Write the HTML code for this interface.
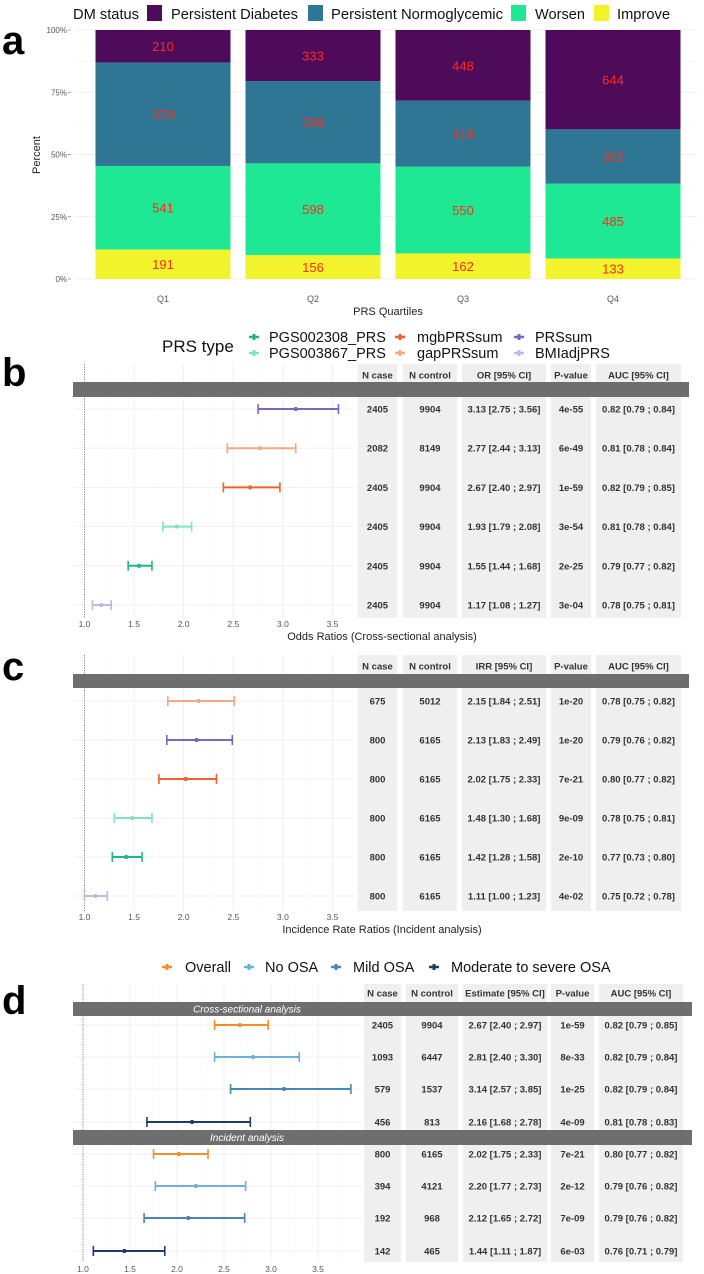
<!DOCTYPE html>
<html><head><meta charset="utf-8"><style>
html,body{margin:0;padding:0;background:#fff;}
svg{display:block;font-family:"Liberation Sans",sans-serif;}
</style></head><body>
<svg id="fig" width="704" height="1274" viewBox="0 0 704 1274" xmlns="http://www.w3.org/2000/svg">
<text x="2" y="54" font-size="40" font-weight="bold" fill="#000">a</text>
<text x="2" y="386" font-size="40" font-weight="bold" fill="#000">b</text>
<text x="2" y="680" font-size="40" font-weight="bold" fill="#000">c</text>
<text x="2" y="1014" font-size="40" font-weight="bold" fill="#000">d</text>
<g id="pa"></g>
<g id="pb"></g>
<g id="pc"></g>
<g id="pd"></g>
</svg>
<script>
// ---- Panel a data ----
const quartiles = ["Q1","Q2","Q3","Q4"];
const improveCounts = [191,156,162,133];
const worsenCounts = [541,598,550,485];
const normoCounts = [670,536,418,352];
const diabetesCounts = [210,333,448,644];
const pctTicks = ["0%","25%","50%","75%","100%"];

// ---- Panel b data ----
const bLabels = ["PRSsum","gapPRSsum","mgbPRSsum","PGS003867_PRS","PGS002308_PRS","BMIadjPRS"];
const bEst = [3.13,2.77,2.67,1.93,1.55,1.17];
const bLo = [2.75,2.44,2.40,1.79,1.44,1.08];
const bHi = [3.56,3.13,2.97,2.08,1.68,1.27];
const bCase = ["2405","2082","2405","2405","2405","2405"];
const bCtrl = ["9904","8149","9904","9904","9904","9904"];
const bP = ["4e-55","6e-49","1e-59","3e-54","2e-25","3e-04"];
const bAuc = ["0.82 [0.79 ; 0.84]","0.81 [0.78 ; 0.84]","0.82 [0.79 ; 0.85]","0.81 [0.78 ; 0.84]","0.79 [0.77 ; 0.82]","0.78 [0.75 ; 0.81]"];

// ---- Panel c data ----
const cLabels = ["gapPRSsum","PRSsum","mgbPRSsum","PGS003867_PRS","PGS002308_PRS","BMIadjPRS"];
const cEst = [2.15,2.13,2.02,1.48,1.42,1.11];
const cLo = [1.84,1.83,1.75,1.30,1.28,1.00];
const cHi = [2.51,2.49,2.33,1.68,1.58,1.23];
const cCase = ["675","800","800","800","800","800"];
const cCtrl = ["5012","6165","6165","6165","6165","6165"];
const cP = ["1e-20","1e-20","7e-21","9e-09","2e-10","4e-02"];
const cAuc = ["0.78 [0.75 ; 0.82]","0.79 [0.76 ; 0.82]","0.80 [0.77 ; 0.82]","0.78 [0.75 ; 0.81]","0.77 [0.73 ; 0.80]","0.75 [0.72 ; 0.78]"];

// ---- Panel d data ----
const dLabels = ["Overall","No OSA","Mild OSA","Moderate to severe OSA","Overall","No OSA","Mild OSA","Moderate to severe OSA"];
const dEst = [2.67,2.81,3.14,2.16,2.02,2.20,2.12,1.44];
const dLo = [2.40,2.40,2.57,1.68,1.75,1.77,1.65,1.11];
const dHi = [2.97,3.30,3.85,2.78,2.33,2.73,2.72,1.87];
const dCase = ["2405","1093","579","456","800","394","192","142"];
const dCtrl = ["9904","6447","1537","813","6165","4121","968","465"];
const dP = ["1e-59","8e-33","1e-25","4e-09","7e-21","2e-12","7e-09","6e-03"];
const dAuc = ["0.82 [0.79 ; 0.85]","0.82 [0.79 ; 0.84]","0.82 [0.79 ; 0.84]","0.81 [0.78 ; 0.83]","0.80 [0.77 ; 0.82]","0.79 [0.76 ; 0.82]","0.79 [0.76 ; 0.82]","0.76 [0.71 ; 0.79]"];

const xTicks = ["1.0","1.5","2.0","2.5","3.0","3.5"];

const NS="http://www.w3.org/2000/svg";
function mk(parent, tag, attrs, txt){
  const e=document.createElementNS(NS,tag);
  for(const k in attrs) e.setAttribute(k,attrs[k]);
  if(txt!==undefined) e.textContent=txt;
  parent.appendChild(e); return e;
}

const prsColor={"PGS002308_PRS":"#1fb784","PGS003867_PRS":"#7fe3c1","mgbPRSsum":"#f0622a","gapPRSsum":"#f4a980","PRSsum":"#7766c2","BMIadjPRS":"#c0b9e2"};
const osaColor={"Overall":"#f58d2a","No OSA":"#6eb0dc","Mild OSA":"#4a86b5","Moderate to severe OSA":"#1e3b6c"};

// ================= Panel a =================
(function(){
  const g=document.getElementById('pa');
  const y0=279, y1=30;
  const yS=p=>y0-(y0-y1)*p/100;
  const xc=i=>163+i*150;
  const bw=135;
  // gridlines
  for(let k=0;k<=8;k++){
    const l=mk(g,'line',{x1:75,x2:697,y1:yS(k*12.5),y2:yS(k*12.5),stroke:k%2?'#f4f4f4':'#ebebeb','stroke-width':k%2?0.5:0.8});
    
    
  }
  pctTicks.forEach((t,k)=>{
    const tx=mk(g,'text',{x:67,y:yS(k*25)+3,'font-size':8,fill:'#555','text-anchor':'end'},t);
    
    
    mk(g,'line',{x1:68,x2:71,y1:yS(k*25),y2:yS(k*25),stroke:'#666','stroke-width':0.6});
  });
  const series=[
    {vals:improveCounts,col:'#f2f22d',name:'improve'},
    {vals:worsenCounts,col:'#1ee894',name:'worsen'},
    {vals:normoCounts,col:'#2e7693',name:'normoglycemic'},
    {vals:diabetesCounts,col:'#4d0b5a',name:'diabetes'}];
  quartiles.forEach((q,i)=>{
    const tot=series.reduce((s,se)=>s+se.vals[i],0);
    let cum=0;
    series.forEach(se=>{
      const p0=cum/tot*100, p1=(cum+se.vals[i])/tot*100;
      cum+=se.vals[i];
      const r=mk(g,'rect',{x:xc(i)-bw/2,y:yS(p1),width:bw,height:yS(p0)-yS(p1),fill:se.col});
      
      
      const t=mk(g,'text',{x:xc(i),y:(yS(p0)+yS(p1))/2+5,'font-size':13,fill:'#ff2a1a','text-anchor':'middle'},String(se.vals[i]));
      
      
    });
    const ql=mk(g,'text',{x:xc(i),y:302,'font-size':9,fill:'#555','text-anchor':'middle'},q);
    
    
  });
  const xt=mk(g,'text',{x:388,y:315,'font-size':11,fill:'#222','text-anchor':'middle'},'PRS Quartiles');
  
  
  const yt=mk(g,'text',{x:0,y:0,'font-size':11,fill:'#222','text-anchor':'middle',transform:'translate(40,155) rotate(-90)'},'Percent');
  
  
  // legend
  const lt=mk(g,'text',{x:73,y:19,'font-size':15,fill:'#111',textLength:66,lengthAdjust:'spacingAndGlyphs'},'DM status');
  
  
  const leg=[[147,171,127,'#4d0b5a','Persistent Diabetes'],[308,331,172,'#2e7693','Persistent Normoglycemic'],[511,535,50,'#1ee894','Worsen'],[594,617,53,'#f2f22d','Improve']];
  leg.forEach(l=>{
    const k=mk(g,'rect',{x:l[0],y:5,width:15,height:16,fill:l[3]});
    
    
    const t=mk(g,'text',{x:l[1],y:19,'font-size':15,fill:'#111',textLength:l[2],lengthAdjust:'spacingAndGlyphs'},l[4]);
    
    
  });
})();

// ================= Forest helper =================
function forest(g,cfg){
  const xs=v=>cfg.x0+(v-1)*cfg.k;
  // table panels
  cfg.cols.forEach(c=>{
    const r=mk(g,'rect',{x:c[0],y:cfg.top,width:c[1]-c[0],height:cfg.bottom-cfg.top,fill:'#efefef'});
    
    
  });
  // grid
  for(let v=1;v<=cfg.gmax+0.001;v+=0.25){
    const major=Math.abs(v*2-Math.round(v*2))<0.01;
    mk(g,'line',{x1:xs(v),x2:xs(v),y1:cfg.top,y2:cfg.bottom,stroke:major?'#ebebeb':'#f5f5f5','stroke-width':major?0.8:0.5});
  }
  cfg.rows.forEach(y=>{
    mk(g,'line',{x1:73,x2:cfg.gridR,y1:y,y2:y,stroke:'#ededed','stroke-width':0.8});
  });
  mk(g,'line',{x1:xs(1),x2:xs(1),y1:cfg.top,y2:cfg.bottom,stroke:'#555','stroke-width':0.7,'stroke-dasharray':'1,1.5'});
  // bands
  cfg.bands.forEach(b=>{
    const r=mk(g,'rect',{x:73,y:b[0],width:cfg.bandR-73,height:b[1]-b[0],fill:'#6e6e6e'});
    
    
    if(b[2]){
      const t=mk(g,'text',{x:247,y:(b[0]+b[1])/2+3.5,'font-size':10,'font-style':'italic',fill:'#fff','text-anchor':'middle'},b[2]);
      
      
    }
  });
  // headers
  cfg.headers.forEach((h,j)=>{
    const c=cfg.cols[j];
    const t=mk(g,'text',{x:(c[0]+c[1])/2,y:cfg.hy+3.5,'font-size':9.5,'font-weight':'bold',fill:'#333','text-anchor':'middle'},h);
    
    
  });
  // rows
  cfg.est.forEach((e,i)=>{
    const y=cfg.rows[i];
    const col=cfg.colors[i];
    const eg=mk(g,'g',{});
    
    
    mk(eg,'line',{x1:xs(cfg.lo[i]),x2:xs(cfg.hi[i]),y1:y,y2:y,stroke:col,'stroke-width':2});
    mk(eg,'line',{x1:xs(cfg.lo[i]),x2:xs(cfg.lo[i]),y1:y-5,y2:y+5,stroke:col,'stroke-width':1.6});
    mk(eg,'line',{x1:xs(cfg.hi[i]),x2:xs(cfg.hi[i]),y1:y-5,y2:y+5,stroke:col,'stroke-width':1.6});
    mk(eg,'rect',{x:xs(e)-1.5,y:y-2,width:3,height:4,fill:col});
    const vals=[cfg.ncase[i],cfg.nctrl[i],e.toFixed(2)+' ['+cfg.lo[i].toFixed(2)+' ; '+cfg.hi[i].toFixed(2)+']',cfg.p[i],cfg.auc[i]];
    vals.forEach((v,j)=>{
      const c=cfg.cols[j];
      const t=mk(g,'text',{x:(c[0]+c[1])/2,y:y+3.5,'font-size':9.5,'font-weight':'bold',fill:'#333','text-anchor':'middle'},v);
      
      
    });
  });
  xTicks.forEach(t=>{
    const tx=mk(g,'text',{x:xs(parseFloat(t)),y:cfg.ty,'font-size':8.5,fill:'#555','text-anchor':'middle'},t);
    
    
  });
  if(cfg.title){
    const tt=mk(g,'text',{x:382,y:cfg.ty+13,'font-size':11,fill:'#222','text-anchor':'middle'},cfg.title);
    
    
  }
}
function rowsFrom(start,step,n){const a=[];for(let i=0;i<n;i++)a.push(start+i*step);return a;}
const bcCols=[[358,397],[403,457],[462,546],[551,591],[596,681]];

forest(document.getElementById('pb'),{x0:84.5,k:99.2,gmax:3.75,gridR:355,bandR:689,top:364,bottom:618,
  cols:bcCols,headers:["N case","N control","OR [95% CI]","P-value","AUC [95% CI]"],hy:375,
  bands:[[382,397]],rows:rowsFrom(409,39.2,6),labels:bLabels,colors:bLabels.map(l=>prsColor[l]),
  est:bEst,lo:bLo,hi:bHi,ncase:bCase,nctrl:bCtrl,p:bP,auc:bAuc,ty:627,title:"Odds Ratios (Cross-sectional analysis)"});
forest(document.getElementById('pc'),{x0:84.5,k:99.2,gmax:3.75,gridR:355,bandR:689,top:655,bottom:911,
  cols:bcCols,headers:["N case","N control","IRR [95% CI]","P-value","AUC [95% CI]"],hy:666,
  bands:[[674,688]],rows:rowsFrom(701,39,6),labels:cLabels,colors:cLabels.map(l=>prsColor[l]),
  est:cEst,lo:cLo,hi:cHi,ncase:cCase,nctrl:cCtrl,p:cP,auc:cAuc,ty:920,title:"Incidence Rate Ratios (Incident analysis)"});
forest(document.getElementById('pd'),{x0:83,k:94,gmax:3.9,gridR:362,bandR:692,top:984,bottom:1262,
  cols:[[364,401],[406,458],[463,547],[551,594],[599,683]],headers:["N case","N control","Estimate [95% CI]","P-value","AUC [95% CI]"],hy:993,
  bands:[[1002,1016,"Cross-sectional analysis"],[1130,1145,"Incident analysis"]],
  rows:[1025,1057,1089,1122,1154,1186,1218,1251],labels:dLabels,colors:dLabels.map(l=>osaColor[l]),
  est:dEst,lo:dLo,hi:dHi,ncase:dCase,nctrl:dCtrl,p:dP,auc:dAuc,ty:1272,title:null});

// legends b and d
(function(){
  const g=document.getElementById('pb');
  const t=mk(g,'text',{x:162,y:352,'font-size':17,fill:'#111'},'PRS type');
  
  
  const items=[[254,269,337,'PGS002308_PRS'],[254,269,353,'PGS003867_PRS'],[400,417,337,'mgbPRSsum'],[400,417,353,'gapPRSsum'],[519,535,337,'PRSsum'],[519,535,353,'BMIadjPRS']];
  items.forEach(it=>{
    const c=prsColor[it[3]];
    mk(g,'line',{x1:it[0]-5,x2:it[0]+5,y1:it[2],y2:it[2],stroke:c,'stroke-width':2.5});
    mk(g,'rect',{x:it[0]-1.5,y:it[2]-3,width:3,height:6,fill:c});
    const tx=mk(g,'text',{x:it[1],y:it[2]+5,'font-size':14.5,fill:'#111'},it[3]);
    
    
  });
  const gd=document.getElementById('pd');
  const ditems=[[167,185,'Overall'],[249,265,'No OSA'],[336,353,'Mild OSA'],[434,451,'Moderate to severe OSA']];
  ditems.forEach(it=>{
    const c=osaColor[it[2]];
    mk(gd,'line',{x1:it[0]-5,x2:it[0]+5,y1:967,y2:967,stroke:c,'stroke-width':2.5});
    mk(gd,'rect',{x:it[0]-1.5,y:964,width:3,height:6,fill:c});
    const tx=mk(gd,'text',{x:it[1],y:972,'font-size':14.5,fill:'#111'},it[2]);
    
    
  });
})();
</script>
</body></html>
